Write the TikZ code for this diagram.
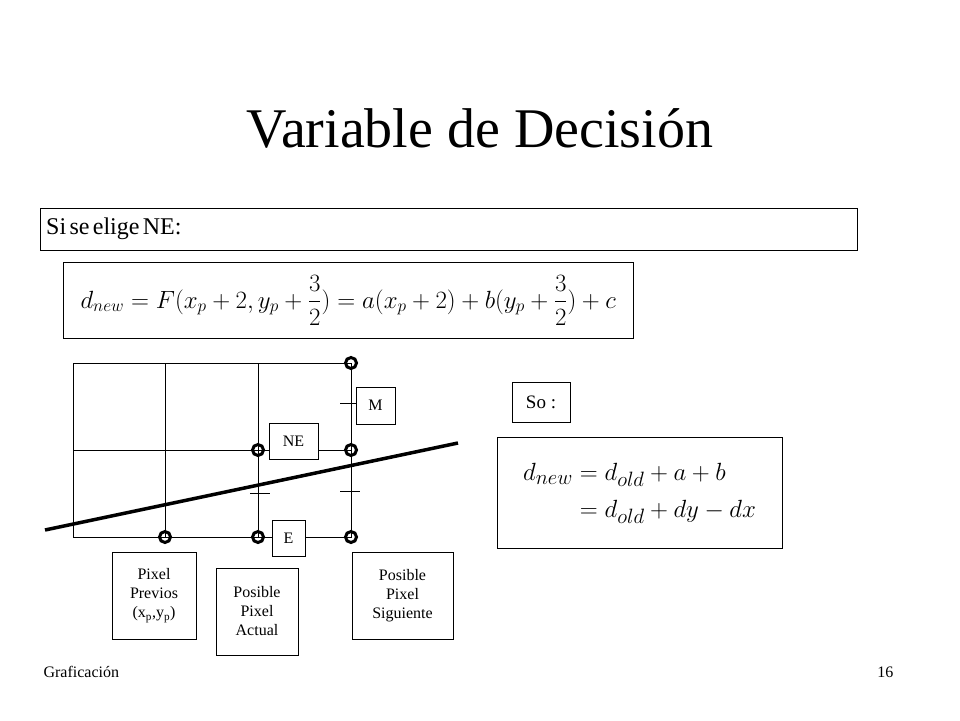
\documentclass[tikz,border=0pt]{standalone}
\usepackage{amsmath}
\usepackage{fontspec}
\setmainfont{Liberation Serif}
\begin{document}
\begin{tikzpicture}[x=1pt,y=-1pt,
 box/.style={draw,thin,inner sep=0pt},
 lbl/.style={draw,align=center,font=\fontsize{16}{19}\selectfont,inner sep=2pt},
 pix/.style={circle,draw,line width=3pt,minimum size=11pt,inner sep=0pt},
 grid/.style={line width=0.8pt}]
\useasboundingbox (0,0) rectangle (960,720);
\node (title) at (480,128) {\fontsize{56}{60}\selectfont Variable de Decisión};
\node[box,minimum width=817,minimum height=42,anchor=north west,text width=805,align=left,inner xsep=6pt] (si) at (40,208) {\fontsize{24}{28}\selectfont Si se elige NE:};
\node[box,minimum width=570,minimum height=76,anchor=north west] (eq1) at (63,262) {};
\node at (eq1.center) {\fontsize{27}{30}\selectfont $d_{new}=F(x_p+2,y_p+\dfrac{3}{2})=a(x_p+2)+b(y_p+\dfrac{3}{2})+c$};
% grid
\draw[grid] (73,363) rectangle (351,537);
\draw[grid] (165,363) -- (165,537) (258,363) -- (258,537) (73,450) -- (351,450);
\draw[grid] (250,493) -- (270,493) (340,491) -- (360,491) (340,403) -- (360,403);
\coordinate (l1) at (45,530); \coordinate (l2) at (458,443);
\draw[line width=3.5pt] (l1) -- (l2);
\foreach \n/\x/\y in {a/351/363,b/258/450,c/351/450,d/165/537,e/258/537,f/351/537}
  \node[pix,fill=none] (p\n) at (\x,\y) {};
\node[lbl,fill=white,minimum width=39,minimum height=37] (M) at (375.5,405.5) {M};
\node[lbl,fill=white,minimum width=49,minimum height=36] (NE) at (293.5,441) {NE};
\node[lbl,fill=white,minimum width=33,minimum height=36] (E) at (288.5,538) {E};
\node[lbl,minimum width=84,minimum height=87] (pp) at (154,595.5) {Pixel\\Previos\\(x\textsubscript{p},y\textsubscript{p})};
\node[lbl,minimum width=82,minimum height=87] (pa) at (257,611.5) {Posible\\Pixel\\Actual};
\node[lbl,minimum width=101,minimum height=87] (ps) at (402.5,595.5) {Posible\\Pixel\\Siguiente};
\node[lbl,minimum width=58,minimum height=40,font=\fontsize{19}{22}\selectfont] (so) at (541,402) {So :};
\node[box,minimum width=285,minimum height=111] (eq2) at (639.5,492.5) {};
\node at (eq2.center) {\fontsize{30}{34}\selectfont $\begin{aligned}d_{new}&=d_{old}+a+b\\&=d_{old}+dy-dx\end{aligned}$};
\node[anchor=west] (foot) at (40,672) {\fontsize{16}{19}\selectfont Graficación};
\node[anchor=east] (num) at (897,672) {\fontsize{16}{19}\selectfont 16};
\end{tikzpicture}
\end{document}
